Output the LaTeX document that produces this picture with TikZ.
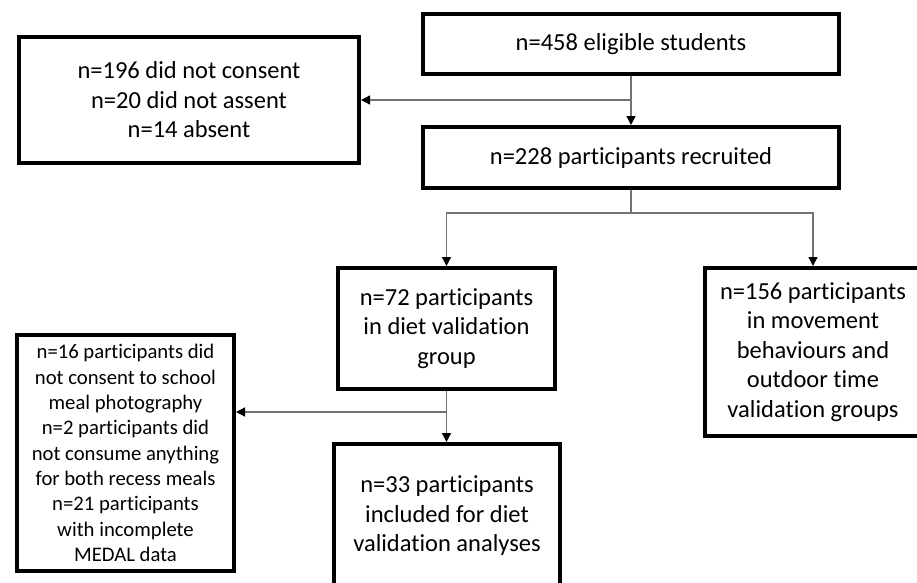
\documentclass[tikz,border=0pt]{standalone}
\usepackage{fontspec}
\setmainfont{Carlito}[Ligatures=NoCommon]
\usetikzlibrary{arrows.meta,calc}
\begin{document}
\begin{tikzpicture}[x=1pt,y=-1pt,
  box/.style={draw=black,line width=4pt,fill=white,align=center,inner sep=0pt,
    font=\fontsize{24.5}{29.5}\selectfont},
  smallbox/.style={box,font=\fontsize{20.7}{25.3}\selectfont},
  conn/.style={draw=black!55,line width=1.3pt},
  arr/.style={conn,-{Triangle[length=9pt,width=9pt,color=black]}}]
\clip (0,0) rectangle (917,582);
\fill[white] (0,0) rectangle (917,582);
\node[box,minimum width=416pt,minimum height=60pt] (b1) at (631,44) {n=458 eligible students};
\node[box,minimum width=340pt,minimum height=126pt] (b2) at (189,100) {n=196 did not consent\\n=20 did not assent\\n=14 absent};
\node[box,minimum width=416pt,minimum height=61pt] (b3) at (631,157.5) {n=228 participants recruited};
\node[box,minimum width=217pt,minimum height=121pt] (b4) at (446.5,328.5) {n=72 participants\\in diet validation\\group};
\node[box,minimum width=216pt,minimum height=168pt] (b5) at (813,352) {n=156 participants\\in movement\\behaviours and\\outdoor time\\validation groups};
\node[smallbox,minimum width=217pt,minimum height=236pt] (b6) at (125.5,453) {n=16 participants did\\not consent to school\\meal photography\\n=2 participants did\\not consume anything\\for both recess meals\\n=21 participants\\with incomplete\\MEDAL data};
\node[box,minimum width=226pt,minimum height=144pt] (b7) at (447,516) {n=33 participants\\included for diet\\validation analyses};
% connectors
\draw[arr] (b1.south) -- (b3.north);
\coordinate (j1) at (b1.south |- b2.east);
\draw[arr] (j1) -- (b2.east);
\coordinate (j2) at ($(b3.south)+(0,23)$);
\draw[conn] (b3.south) -- (j2);
\draw[arr] (j2) -| (b4.north);
\draw[arr] (j2) -| (b5.north);
\draw[arr] (b4.south) -- (b4.south |- b7.north);
\coordinate (j3) at ($(b4.south)+(0,21)$);
\draw[arr] (j3) -- (j3 -| b6.east);
\end{tikzpicture}
\end{document}
